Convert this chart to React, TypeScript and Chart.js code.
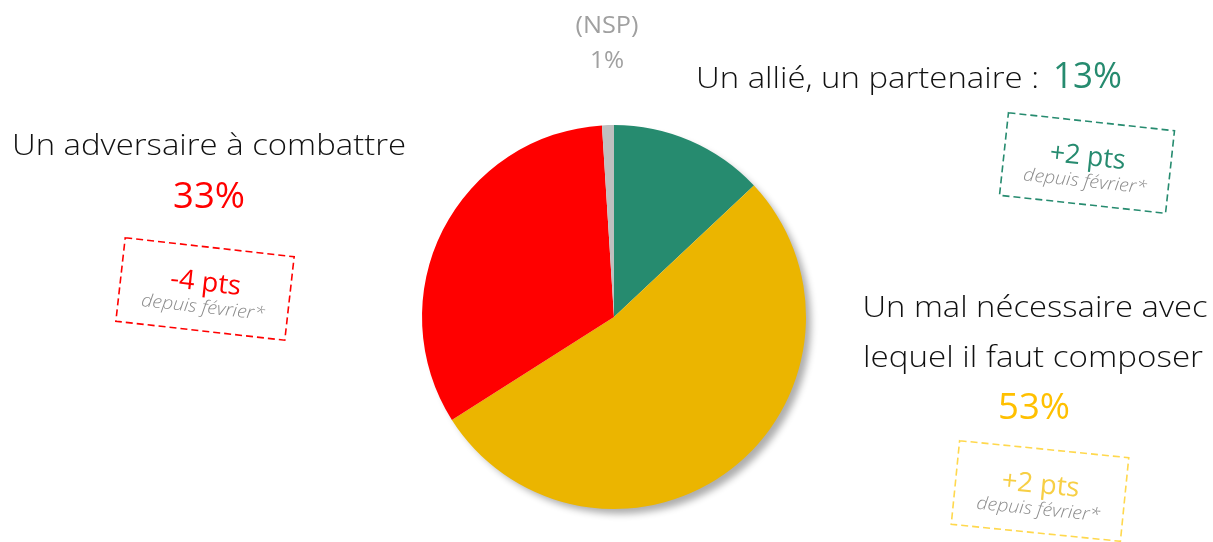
import React, { useEffect, useRef } from "react";
import { Chart, registerables } from "chart.js";

Chart.register(...registerables);

const categories = ["Un allié, un partenaire", "Un mal nécessaire avec lequel il faut composer", "Un adversaire à combattre", "(NSP)"];
const values = [13, 53, 33, 1];
const colors = ["#268B6F", "#EBB500", "#FF0000", "#BFBFBF"];
const changes = ["+2 pts", "+2 pts", "-4 pts"];
const changeNote = "depuis février*";

const FONT = "'Open Sans', Lato, sans-serif";

function fitText(ctx: CanvasRenderingContext2D, text: string, x: number, y: number, size: number, width: number, color: string, opts: { italic?: boolean; align?: "center" | "left"; weight?: number } = {}) {
  ctx.save();
  ctx.font = `${opts.italic ? "italic " : ""}${opts.weight ?? 300} ${size}px ${FONT}`;
  const w = ctx.measureText(text).width;
  const sx = w > 0 ? width / w : 1;
  ctx.translate(x, y);
  ctx.scale(sx, 1);
  ctx.fillStyle = color;
  ctx.textBaseline = "alphabetic";
  ctx.textAlign = opts.align === "left" ? "left" : "center";
  ctx.fillText(text, 0, 0);
  ctx.restore();
}

function dashedBox(ctx: CanvasRenderingContext2D, cx: number, cy: number, w: number, h: number, angle: number, color: string, change: string, changeColor: string, changeW: number) {
  ctx.save();
  ctx.translate(cx, cy);
  ctx.rotate(angle);
  ctx.strokeStyle = color;
  ctx.lineWidth = 1.6;
  ctx.setLineDash([7, 4]);
  ctx.strokeRect(-w / 2, -h / 2, w, h);
  ctx.setLineDash([]);
  fitText(ctx, change, 0, 2, 27, changeW, changeColor, { weight: 400 });
  fitText(ctx, changeNote, 0, 24, 18, 124, "#8C8C8C", { italic: true });
  ctx.restore();
}

const annotations = {
  id: "annotations",
  beforeDatasetsDraw(chart: any) {
    const meta = chart.getDatasetMeta(0);
    const arc = meta.data[0];
    if (!arc) return;
    const { x, y, outerRadius } = arc;
    const ctx = chart.ctx as CanvasRenderingContext2D;
    ctx.save();
    ctx.shadowColor = "rgba(0,0,0,0.32)";
    ctx.shadowBlur = 7;
    ctx.shadowOffsetX = 6;
    ctx.shadowOffsetY = 6;
    ctx.fillStyle = "#ffffff";
    ctx.beginPath();
    ctx.arc(x, y, outerRadius - 1, 0, Math.PI * 2);
    ctx.fill();
    ctx.restore();
  },
  afterDraw(chart: any) {
    const ctx = chart.ctx as CanvasRenderingContext2D;
    // NSP
    fitText(ctx, "(NSP)", 607, 33, 23, 63, "#A0A0A0", { weight: 400 });
    fitText(ctx, `${values[3]}%`, 607, 68, 23, 34, "#A0A0A0", { weight: 400 });
    // Allié
    fitText(ctx, "Un allié, un partenaire :", 696, 88, 30, 343, "#111111", { align: "left" });
    fitText(ctx, `${values[0]}%`, 1053, 88, 37, 69, colors[0], { align: "left", weight: 400 });
    dashedBox(ctx, 1087, 163, 167, 83, 0.108, colors[0], changes[0], colors[0], 76);
    // Adversaire
    fitText(ctx, "Un adversaire à combattre", 209, 155, 30, 394, "#111111");
    fitText(ctx, `${values[2]}%`, 209, 208, 37, 72, colors[2], { weight: 400 });
    dashedBox(ctx, 205, 289, 170, 84, 0.112, colors[2], changes[2], colors[2], 71);
    // Mal nécessaire
    fitText(ctx, "Un mal nécessaire avec", 1035, 317, 30, 345, "#111111");
    fitText(ctx, "lequel il faut composer", 1033, 367, 30, 340, "#111111");
    fitText(ctx, `${values[1]}%`, 1034, 419, 37, 72, "#FFC000", { weight: 400 });
    dashedBox(ctx, 1040, 491, 170, 84, 0.1, "#FFD84D", changes[1], "#F7CF45", 78);
  },
};

export default function App() {
  const ref = useRef<HTMLCanvasElement>(null);
  useEffect(() => {
    document.body.style.margin = "0";
    const canvas = ref.current!;
    const chart = new Chart(canvas, {
      type: "pie",
      data: {
        labels: categories,
        datasets: [
          {
            data: values,
            backgroundColor: colors,
            borderWidth: 0,
          },
        ],
      },
      options: {
        animation: false,
        responsive: false,
        maintainAspectRatio: false,
        layout: { padding: { top: 125, bottom: 33, left: 422, right: 407 } },
        plugins: { legend: { display: false }, tooltip: { enabled: false } },
      },
      plugins: [annotations],
    });
    return () => chart.destroy();
  }, []);
  return (
    <div style={{ width: 1213, height: 542, background: "#fff" }}>
      <canvas ref={ref} width={1213} height={542} style={{ display: "block" }} />
    </div>
  );
}
